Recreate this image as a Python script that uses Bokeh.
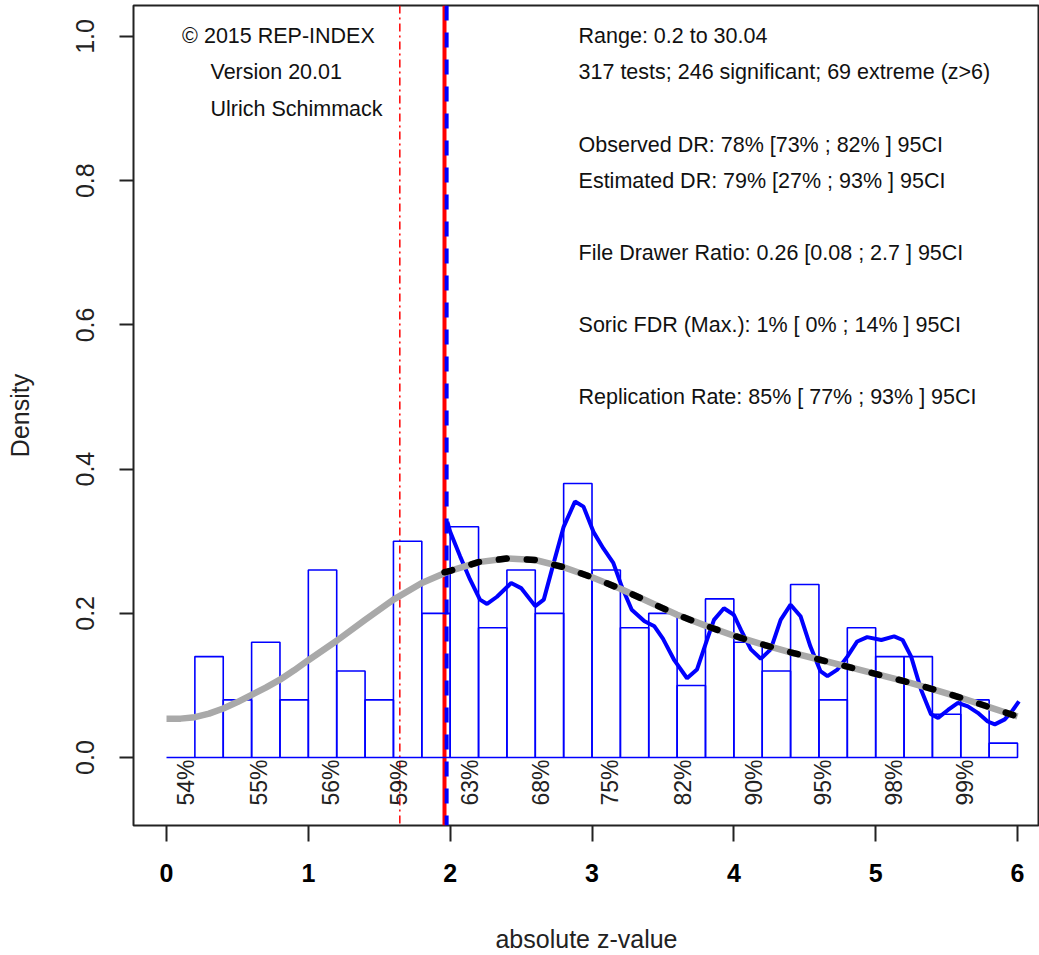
import math
from bokeh.plotting import figure
from bokeh.models import Range1d, Span, FixedTicker, PrintfTickFormatter
from bokeh.core.properties import value
from bokeh.embed import file_html
from bokeh.resources import INLINE

# ---------------- data ----------------
bin_left = [0.0, 0.2, 0.4, 0.6, 0.8, 1.0, 1.2, 1.4, 1.6, 1.8,
            2.0, 2.2, 2.4, 2.6, 2.8, 3.0, 3.2, 3.4, 3.6, 3.8,
            4.0, 4.2, 4.4, 4.6, 4.8, 5.0, 5.2, 5.4, 5.6, 5.8]
bin_right = [0.2, 0.4, 0.6, 0.8, 1.0, 1.2, 1.4, 1.6, 1.8, 2.0,
             2.2, 2.4, 2.6, 2.8, 3.0, 3.2, 3.4, 3.6, 3.8, 4.0,
             4.2, 4.4, 4.6, 4.8, 5.0, 5.2, 5.4, 5.6, 5.8, 6.0]
bin_density = [0.00, 0.14, 0.08, 0.16, 0.08, 0.26, 0.12, 0.08, 0.30, 0.20,
               0.32, 0.18, 0.26, 0.20, 0.38, 0.26, 0.18, 0.20, 0.10, 0.22,
               0.16, 0.12, 0.24, 0.08, 0.18, 0.14, 0.14, 0.06, 0.08, 0.02]

fit_z = [0.0, 0.1, 0.2, 0.3, 0.4, 0.5, 0.6, 0.7, 0.8, 0.9, 1.0, 1.2, 1.4, 1.6,
         1.8, 2.0, 2.2, 2.4, 2.6, 2.8, 3.0, 3.2, 3.4, 3.6, 3.8, 4.0, 4.2, 4.4,
         4.6, 4.8, 5.0, 5.2, 5.4, 5.6, 5.8, 6.0]
fit_density = [0.054, 0.054, 0.056, 0.061, 0.068, 0.077, 0.087, 0.097, 0.108,
               0.121, 0.135, 0.162, 0.191, 0.219, 0.242, 0.259, 0.271, 0.276,
               0.274, 0.264, 0.250, 0.234, 0.216, 0.198, 0.183, 0.169, 0.157,
               0.146, 0.136, 0.126, 0.116, 0.106, 0.095, 0.083, 0.070, 0.057]

sig_fit_z = [1.96, 2.0, 2.2, 2.4, 2.6, 2.8, 3.0, 3.2, 3.4, 3.6, 3.8, 4.0, 4.2,
             4.4, 4.6, 4.8, 5.0, 5.2, 5.4, 5.6, 5.8, 6.0]
sig_fit_density = [0.257, 0.259, 0.271, 0.276, 0.274, 0.264, 0.250, 0.234,
                   0.216, 0.198, 0.183, 0.169, 0.157, 0.146, 0.136, 0.126,
                   0.116, 0.106, 0.095, 0.083, 0.070, 0.057]

kde_z = [1.98, 2.00, 2.07, 2.14, 2.21, 2.26, 2.33, 2.43, 2.50, 2.60, 2.66, 2.73,
         2.80, 2.88, 2.94, 3.01, 3.08, 3.15, 3.21, 3.28, 3.37, 3.44, 3.50, 3.58,
         3.67, 3.74, 3.81, 3.86, 3.93, 4.00, 4.05, 4.12, 4.19, 4.26, 4.33, 4.40,
         4.47, 4.54, 4.61, 4.66, 4.73, 4.80, 4.87, 4.94, 5.04, 5.13, 5.19, 5.25,
         5.32, 5.39, 5.44, 5.51, 5.58, 5.65, 5.72, 5.79, 5.84, 5.91, 5.96, 6.01]
kde_density = [0.327, 0.313, 0.279, 0.247, 0.219, 0.213, 0.223, 0.242, 0.235,
               0.210, 0.219, 0.270, 0.320, 0.355, 0.348, 0.313, 0.290, 0.270,
               0.237, 0.205, 0.189, 0.182, 0.165, 0.135, 0.110, 0.122, 0.163,
               0.191, 0.207, 0.198, 0.177, 0.150, 0.137, 0.150, 0.191, 0.212,
               0.196, 0.154, 0.120, 0.113, 0.122, 0.140, 0.161, 0.167, 0.163,
               0.168, 0.163, 0.140, 0.094, 0.060, 0.055, 0.066, 0.076, 0.071,
               0.062, 0.050, 0.046, 0.053, 0.064, 0.078]

pct_z = [0.14, 0.65, 1.16, 1.64, 2.14, 2.64, 3.13, 3.64, 4.14, 4.63, 5.13, 5.63]
pct_labels = ["54%", "55%", "56%", "59%", "63%", "68%", "75%", "82%",
              "90%", "95%", "98%", "99%"]

z_crit = 1.96
z_crit_one = 1.645
z_cut = 1.975

x_ticks = [0, 1, 2, 3, 4, 5, 6]
y_ticks = [0.0, 0.2, 0.4, 0.6, 0.8, 1.0]

credit_x = [0.11, 0.31, 0.31]
credit_y = [1.00, 0.95, 0.90]
credit_text = ["\u00a9 2015 REP-INDEX", "Version 20.01", "Ulrich Schimmack"]

info_x = [2.905, 2.905, 2.905, 2.905, 2.905, 2.905, 2.905]
info_y = [1.00, 0.95, 0.85, 0.80, 0.70, 0.60, 0.50]
info_text = [
    "Range: 0.2 to 30.04",
    "317 tests; 246 significant; 69 extreme (z>6)",
    "Observed DR: 78% [73% ; 82% ] 95CI",
    "Estimated DR: 79% [27% ; 93% ] 95CI",
    "File Drawer Ratio: 0.26 [0.08 ; 2.7 ] 95CI",
    "Soric FDR (Max.): 1% [ 0% ; 14% ] 95CI",
    "Replication Rate: 85% [ 77% ; 93% ] 95CI",
]

FONT = "Liberation Sans"

# ---------------- figure ----------------
p = figure(width=1039, height=955,
           x_range=Range1d(-0.2327, 6.155), y_range=Range1d(-0.0942, 1.0429),
           output_backend="svg", toolbar_location=None,
           min_border_left=133, min_border_right=0,
           min_border_top=5, min_border_bottom=129)
p.grid.visible = False
p.background_fill_color = "white"
p.border_fill_color = "white"
p.outline_line_color = "#222222"
p.outline_line_width = 2

# critical lines
for loc, col, w, dash in [(z_crit_one, "#FF0000", 1.5, "8 4 2 4"),
                          (z_crit, "#FF0000", 4, "solid"),
                          (z_cut, "#0000FF", 4, "15 12")]:
    p.add_layout(Span(location=loc, dimension="height", line_color=col,
                      line_width=w, line_dash=dash, level="underlay"))

# histogram
p.quad(left=bin_left, right=bin_right, bottom=0, top=bin_density,
       fill_color=None, line_color="#0000FF", line_width=1.6)

# kde of significant values
p.line(kde_z, kde_density, line_color="#0000FF", line_width=4)

# fitted curve
p.line(fit_z, fit_density, line_color="#A9A9A9", line_width=6.5)
p.line(sig_fit_z, sig_fit_density, line_color="black", line_width=6.5,
       line_dash="8 20", line_cap="round")

# percentage labels
p.text(x=pct_z, y=[0] * len(pct_z), text=pct_labels, angle=math.pi / 2,
       text_align="right", text_baseline="middle", y_offset=2,
       text_font=value(FONT), text_font_size=value("23px"), text_color="#222222")

# credit and info text
p.text(x=credit_x, y=credit_y, text=credit_text, text_align="left",
       text_baseline="middle", text_font=value(FONT),
       text_font_size=value("21.5px"), text_color="#111111")
p.text(x=info_x, y=info_y, text=info_text, text_align="left",
       text_baseline="middle", text_font=value(FONT),
       text_font_size=value("21.5px"), text_color="#111111")

# axes
xa = p.xaxis[0]
xa.ticker = FixedTicker(ticks=x_ticks)
xa.minor_tick_line_color = None
xa.axis_line_color = None
xa.major_tick_out = 16
xa.major_tick_in = 0
xa.major_tick_line_width = 2
xa.major_tick_line_color = "#222222"
xa.major_label_standoff = 22
xa.major_label_text_font = FONT
xa.major_label_text_font_size = "25px"
xa.major_label_text_font_style = "bold"
xa.major_label_text_color = "black"
xa.axis_label = "absolute z-value"
xa.axis_label_text_font = FONT
xa.axis_label_text_font_size = "25px"
xa.axis_label_text_font_style = "normal"
xa.axis_label_text_color = "#222222"
xa.axis_label_standoff = 40

ya = p.yaxis[0]
ya.ticker = FixedTicker(ticks=y_ticks)
ya.formatter = PrintfTickFormatter(format="%.1f")
ya.minor_tick_line_color = None
ya.axis_line_color = None
ya.major_tick_out = 14
ya.major_tick_in = 0
ya.major_tick_line_width = 2
ya.major_tick_line_color = "#222222"
ya.major_label_standoff = 25
ya.major_label_orientation = "vertical"
ya.major_label_text_font = FONT
ya.major_label_text_font_size = "25px"
ya.major_label_text_color = "#222222"
ya.axis_label = "Density"
ya.axis_label_text_font = FONT
ya.axis_label_text_font_size = "25px"
ya.axis_label_text_font_style = "normal"
ya.axis_label_text_color = "#222222"
ya.axis_label_standoff = 40

open("out.html", "w").write(file_html(p, INLINE))
